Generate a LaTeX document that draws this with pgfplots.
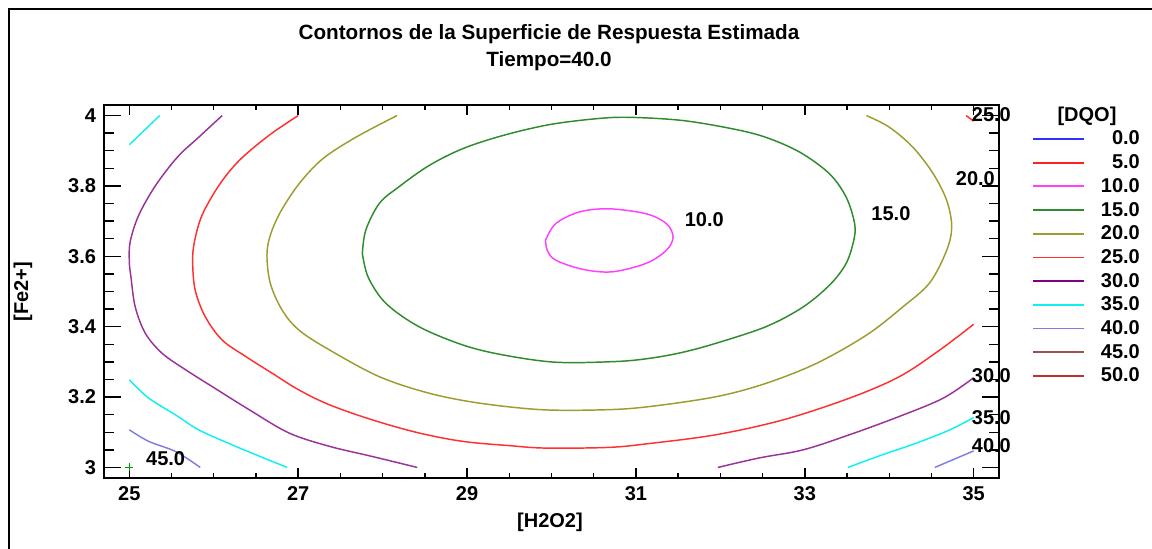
\documentclass[border=0pt]{standalone}
\usepackage{fontspec}
\setmainfont{Liberation Sans}
\usepackage{pgfplots}
\pgfplotsset{compat=1.18}
\newcommand\lf{\fontsize{15}{18}\selectfont\bfseries}
\definecolor{cBlue}{HTML}{3030FF}
\definecolor{cRed}{HTML}{FF2020}
\definecolor{cMag}{HTML}{FF40FF}
\definecolor{cGreen}{HTML}{2E8B2E}
\definecolor{cOlive}{HTML}{9C9C30}
\definecolor{cRed2}{HTML}{FF3030}
\definecolor{cPurp}{HTML}{993399}
\definecolor{cPurpL}{HTML}{800080}
\definecolor{cCyan}{HTML}{10F0F0}
\definecolor{cLav}{HTML}{7F7FDF}
\definecolor{cBrown}{HTML}{A05050}
\definecolor{cDRed}{HTML}{C03030}
\begin{document}
\begin{tikzpicture}
\begin{axis}[
  scale only axis, width=671.25pt, height=279.75pt,
  xmin=24.7, xmax=35.3, ymin=2.97, ymax=4.03,
  xtick={25,27,29,31,33,35},
  ytick={3,3.2,3.4,3.6,3.8,4},
  yticklabels={3,3.2,3.4,3.6,3.8,4},
  minor x tick num=3, minor y tick num=3,
  axis line style={line width=1.5pt},
  tick style={line width=1.1pt, black},
  xtick style={/pgfplots/major tick length=7.5pt,/pgfplots/minor tick length=3.75pt},
  ytick style={/pgfplots/major tick length=12.75pt,/pgfplots/minor tick length=7.5pt},
  /pgf/number format/assume math mode=true,
  tick label style={font=\lf},
  xticklabel style={yshift=-2.5pt},
  yticklabel style={xshift=-2.5pt},
  clip=false,
  title={Contornos de la Superficie de Respuesta Estimada\\Tiempo=40.0},
  title style={align=center, font=\fontsize{15.5}{20.25}\selectfont\bfseries, at={(axis description cs:0.4972,1.1315)}, anchor=center},
  xlabel={[H2O2]},
  xlabel style={font=\lf, at={(axis description cs:0.4983,-0.118)}, anchor=center},
  ylabel={[Fe2+]},
  ylabel style={font=\lf, at={(axis description cs:-0.0905,0.5)}, anchor=center, rotate=0},
  legend image code/.code={\draw[#1,line width=1.4pt] (0pt,0pt) -- (38.25pt,0pt);},
  legend style={at={(1.0369,0.9303)}, anchor=north west, draw=none, fill=none,
    inner sep=0pt, outer sep=0pt, font=\lf, row sep=5.8pt, column sep=12pt,
    nodes={inner sep=0pt}, cells={anchor=east}},
]
\addlegendimage{cBlue}\addlegendentry{0.0}
\addlegendimage{cRed}\addlegendentry{5.0}
\addlegendimage{cMag}\addlegendentry{10.0}
\addlegendimage{cGreen}\addlegendentry{15.0}
\addlegendimage{cOlive}\addlegendentry{20.0}
\addlegendimage{cRed2}\addlegendentry{25.0}
\addlegendimage{cPurpL}\addlegendentry{30.0}
\addlegendimage{cCyan}\addlegendentry{35.0}
\addlegendimage{cLav}\addlegendentry{40.0}
\addlegendimage{cBrown}\addlegendentry{45.0}
\addlegendimage{cDRed}\addlegendentry{50.0}

% 10
\addplot[forget plot, cMag, line width=1.1pt, smooth, tension=0.55] coordinates {
(29.93,3.646) (30.05,3.693) (30.33,3.726) (30.68,3.735) (31.12,3.721) (31.36,3.693) (31.44,3.655) (31.36,3.617) (31.12,3.580) (30.72,3.556) (30.37,3.563) (30.05,3.589) (29.95,3.617) (29.93,3.646)};
% 15
\addplot[forget plot, cGreen, line width=1.1pt, smooth, tension=0.55] coordinates {
(27.76,3.608) (27.80,3.674) (27.96,3.75) (28.19,3.797) (28.55,3.858) (28.95,3.906) (29.42,3.943) (29.97,3.974) (30.53,3.991) (30.92,3.995) (31.55,3.986) (32.15,3.962) (32.54,3.938) (32.94,3.896) (33.29,3.835) (33.49,3.768) (33.59,3.693) (33.58,3.646) (33.49,3.58) (33.30,3.52) (32.98,3.456) (32.54,3.400) (31.95,3.353) (31.55,3.327) (31.16,3.310) (30.76,3.301) (30.05,3.299) (29.42,3.32) (28.95,3.348) (28.43,3.40) (28.04,3.466) (27.83,3.54) (27.76,3.608)};
% 20
\addplot[forget plot, cOlive, line width=1.1pt, smooth, tension=0.55] coordinates {
(28.17,4.0) (27.68,3.938) (27.29,3.877) (27.01,3.806) (26.79,3.726) (26.67,3.66) (26.63,3.603) (26.67,3.523) (26.81,3.447) (27.01,3.39) (27.37,3.334) (27.96,3.258) (28.55,3.211) (29.14,3.183) (29.89,3.164) (30.65,3.164) (31.16,3.173) (31.95,3.201) (32.54,3.239) (33.14,3.296) (33.73,3.376) (34.16,3.456) (34.48,3.525) (34.68,3.617) (34.74,3.685) (34.68,3.759) (34.52,3.835) (34.28,3.91) (34.0,3.967) (33.73,4.0)};
% 25
\addplot[forget plot, cRed2, line width=1.1pt, smooth, tension=0.55] coordinates {
(27.0,4.0) (26.65,3.943) (26.30,3.872) (26.06,3.801) (25.86,3.716) (25.77,3.640) (25.75,3.584) (25.78,3.504) (25.90,3.428) (26.10,3.362) (26.38,3.315) (26.69,3.268) (27.01,3.22) (27.37,3.178) (27.88,3.135) (28.43,3.098) (28.95,3.074) (29.50,3.062) (29.93,3.055) (30.68,3.057) (31.16,3.068) (31.95,3.093) (32.74,3.135) (33.53,3.197) (34.12,3.258) (34.60,3.334) (35.0,3.407)};
\addplot[forget plot, cRed2, line width=1.1pt] coordinates {(34.91,4.0) (35.0,3.984)};
% 30
\addplot[forget plot, cPurp, line width=1.1pt, smooth, tension=0.55] coordinates {
(26.10,4.0) (25.82,3.938) (25.57,3.882) (25.31,3.801) (25.11,3.716) (25.01,3.641) (25.0,3.584) (25.02,3.54) (25.07,3.456) (25.19,3.381) (25.39,3.324) (25.67,3.277) (25.98,3.230) (26.42,3.164) (26.89,3.098) (27.37,3.060) (27.88,3.031) (28.41,3.0)};
\addplot[forget plot, cPurp, line width=1.1pt, smooth, tension=0.55] coordinates {
(31.97,3.0) (32.46,3.027) (32.98,3.05) (33.53,3.093) (34.12,3.145) (34.64,3.197) (35.0,3.255)};
% 35
\addplot[forget plot, cCyan, line width=1.1pt] coordinates {(25.0,3.917) (25.36,4.0)};
\addplot[forget plot, cCyan, line width=1.1pt, smooth, tension=0.55] coordinates {
(25.0,3.249) (25.23,3.197) (25.55,3.149) (25.82,3.107) (26.22,3.064) (26.57,3.029) (26.87,3.0)};
\addplot[forget plot, cCyan, line width=1.1pt, smooth, tension=0.55] coordinates {
(33.51,3.0) (33.92,3.036) (34.32,3.069) (34.72,3.107) (35.0,3.142)};
% 40
\addplot[forget plot, cLav, line width=1.1pt, smooth, tension=0.55] coordinates {
(25.0,3.107) (25.23,3.074) (25.55,3.045) (25.84,3.0)};
\addplot[forget plot, cLav, line width=1.1pt] coordinates {(34.54,3.0) (35.0,3.047)};
% design point
\addplot[forget plot, only marks, mark=+, mark size=3pt, color=green!60!black, mark options={line width=1.1pt}] coordinates {(25,3)};

\node[font=\lf] at (axis cs:31.81,3.705) {10.0};
\node[font=\lf] at (axis cs:34.02,3.722) {15.0};
\node[font=\lf] at (axis cs:35.02,3.821) {20.0};
\node[font=\lf] at (axis cs:35.21,4.003) {25.0};
\node[font=\lf] at (axis cs:35.21,3.26) {30.0};
\node[font=\lf] at (axis cs:35.21,3.141) {35.0};
\node[font=\lf] at (axis cs:35.21,3.062) {40.0};
\node[font=\lf] at (axis cs:25.43,3.025) {45.0};
\node[font=\lf] at (axis description cs:1.0983,0.9705) {[DQO]};
\end{axis}
\draw[line width=1.6pt] (-71.25pt,-60pt) -- (-71.25pt,351.9pt) -- (800pt,351.9pt);
\pgfresetboundingbox
\useasboundingbox (-78pt,-53.25pt) rectangle (786pt,358.5pt);
\end{tikzpicture}
\end{document}
